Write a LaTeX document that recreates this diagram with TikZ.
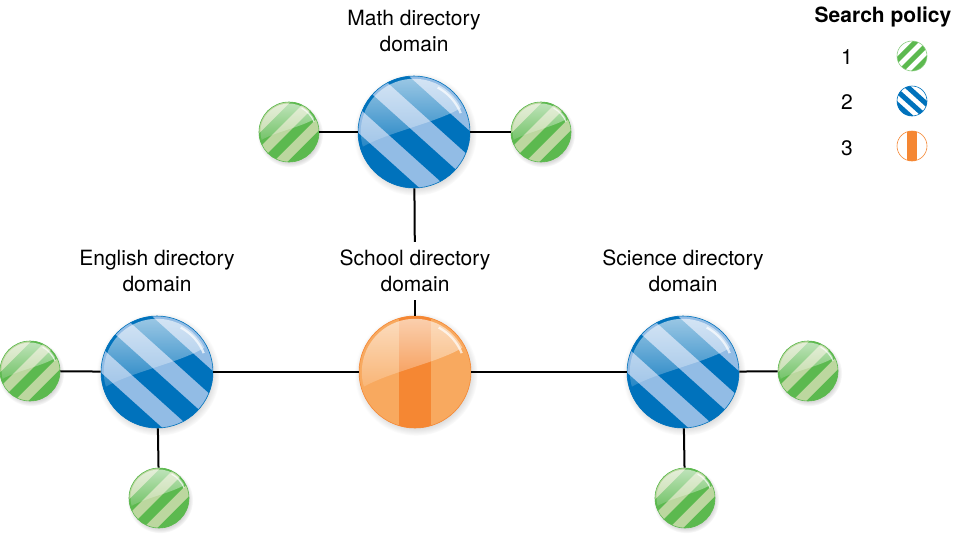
\documentclass[tikz,border=0pt]{standalone}
\usepackage{fontspec}
\setmainfont{TeX Gyre Heros}
\usetikzlibrary{fadings,shadows}

\definecolor{bluedark}{HTML}{0072BC}
\definecolor{bluelight}{HTML}{92BCE5}
\definecolor{greendark}{HTML}{5CB94F}
\definecolor{greenlight}{HTML}{BCD79F}
\definecolor{orangedark}{HTML}{F58733}
\definecolor{orangelight}{HTML}{F8A95F}

\tikzfading[name=glossfade, top color=transparent!35, bottom color=transparent!85]

% slanted bands inside a ball: colour, direction angle, band width, half length
\newcommand\ballstripes[4]{%
  \begin{scope}[shift={(path picture bounding box.center)}]
    \foreach \k in {-4,...,4}{
      \pgfmathsetmacro\sa{2*\k*#3}
      \pgfmathsetmacro\sb{(2*\k+1)*#3}
      \fill[#1] ({-\sa*sin(#2)-#4*cos(#2)},{\sa*cos(#2)-#4*sin(#2)})
        -- ({-\sa*sin(#2)+#4*cos(#2)},{\sa*cos(#2)+#4*sin(#2)})
        -- ({-\sb*sin(#2)+#4*cos(#2)},{\sb*cos(#2)+#4*sin(#2)})
        -- ({-\sb*sin(#2)-#4*cos(#2)},{\sb*cos(#2)-#4*sin(#2)}) -- cycle;
    }
  \end{scope}}
% one upright band: colour, half width, half length
\newcommand\ballband[3]{%
  \begin{scope}[shift={(path picture bounding box.center)}]
    \fill[#1] (-#2, -#3) rectangle (#2, #3);
  \end{scope}}
% glossy upper part: radius
\newcommand\ballgloss[1]{%
  \begin{scope}[shift={(path picture bounding box.center)}]
    \fill[white, path fading=glossfade] (-196:{0.95*#1})
      .. controls ({-0.45*#1},{0.0*#1}) and ({0.35*#1},{-0.15*#1}) .. (-27:{0.95*#1})
      arc[start angle=-27, end angle=-196, radius={0.95*#1}] -- cycle;
    \draw[white, opacity=0.7, line width={0.04*#1}] (-22:{0.9*#1}) arc[start angle=-22, end angle=-62, radius={0.9*#1}];
  \end{scope}}

\tikzset{
  ball/.style={circle, inner sep=0pt, draw=#1, line width=0.6pt,
    circular drop shadow={shadow xshift=1pt, shadow yshift=-2pt, opacity=0.3}},
  blueball/.style={ball=bluedark, minimum size=112pt, fill=bluelight,
    path picture={\ballstripes{bluedark}{42}{19}{62}\ballgloss{56}}},
  greenball/.style={ball=greendark, minimum size=60pt, fill=greenlight,
    path picture={\ballstripes{greendark}{-45}{10}{34}\ballgloss{30}}},
  orangeball/.style={ball=orangedark, minimum size=112pt, fill=orangelight,
    path picture={\ballband{orangedark}{16}{60}\ballgloss{56}}},
  key/.style={circle, inner sep=0pt, minimum size=30pt, fill=white, draw=#1, line width=0.6pt},
  greenkey/.style={key=greendark!70, path picture={\ballstripes{greendark}{-45}{5}{18}}},
  bluekey/.style={key=bluedark, path picture={\ballstripes{bluedark}{42}{5}{18}}},
  orangekey/.style={key=orangedark, path picture={\ballband{orangedark}{5}{18}}},
  lbl/.style={align=center, font=\fontsize{21}{26}\selectfont, inner sep=8pt},
  link/.style={line width=2pt}
}

\begin{document}
\begin{tikzpicture}[x=1pt, y=-1pt]
  \useasboundingbox (0,0) rectangle (976,536);

  % domains
  \node[blueball] (math) at (414,132) {};
  \node[greenball] (mathL) at (289,132) {};
  \node[greenball] (mathR) at (541,132) {};

  \node[blueball] (english) at (157,372) {};
  \node[greenball] (engL) at (30,371) {};
  \node[greenball] (engB) at (159,498) {};

  \node[orangeball] (school) at (415,372) {};

  \node[blueball] (science) at (683,372) {};
  \node[greenball] (sciR) at (808,371) {};
  \node[greenball] (sciB) at (685,498) {};

  \node[lbl] (mathlbl) at (414,31) {Math directory\\domain};
  \node[lbl] (englbl) at (157,271) {English directory\\domain};
  \node[lbl] (schoollbl) at (415,271) {School directory\\domain};
  \node[lbl] (scilbl) at (683,271) {Science directory\\domain};

  % links
  \draw[link] (mathL) -- (math);
  \draw[link] (math) -- (mathR);
  \draw[link] (math) -- (schoollbl);
  \draw[link] (schoollbl) -- (school);
  \draw[link] (engL) -- (english);
  \draw[link] (english) -- (engB);
  \draw[link] (english) -- (school);
  \draw[link] (school) -- (science);
  \draw[link] (science) -- (sciR);
  \draw[link] (science) -- (sciB);

  % legend
  \node[lbl, font=\bfseries\fontsize{21}{26}\selectfont, inner sep=0pt] (title) at (883,17) {Search policy};
  \node[lbl, inner sep=0pt] (n1) at (847,57) {1};
  \node[lbl, inner sep=0pt] (n2) at (847,102) {2};
  \node[lbl, inner sep=0pt] (n3) at (847,148) {3};
  \node[greenkey] (k1) at (912,56) {};
  \node[bluekey] (k2) at (912,101) {};
  \node[orangekey] (k3) at (912,146) {};
\end{tikzpicture}
\end{document}
